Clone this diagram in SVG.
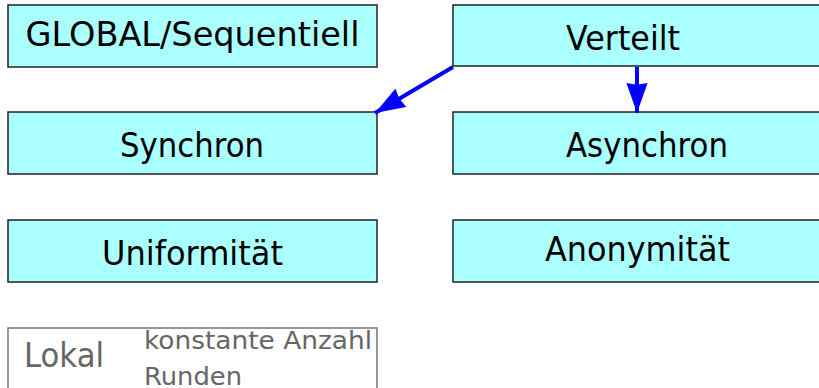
<svg xmlns="http://www.w3.org/2000/svg" width="819" height="388" viewBox="0 0 819 388">
  <defs>
    <marker id="head" viewBox="0 0 10 10" refX="10" refY="5" markerWidth="7.5" markerHeight="5.3" markerUnits="strokeWidth" orient="auto" preserveAspectRatio="none">
      <path d="M0,0 L10,5 L0,10 L0.6,5 z" fill="#0000ff"/>
    </marker>
  </defs>
  <style>
    .box { fill: #aaffff; stroke: #222; stroke-width: 1.5; }
    .plain { fill: #fff; stroke: #777; stroke-width: 1.5; }
    .lbl { font-family: "DejaVu Sans", sans-serif; font-size: 34px; fill: #000; text-anchor: middle; }
    .grey { font-family: "DejaVu Sans", sans-serif; fill: #666; }
    .edge { stroke: #0000ff; stroke-width: 4; fill: none; marker-end: url(#head); }
  </style>

  <g id="global">
    <rect class="box" x="8" y="5" width="369" height="62"/>
    <text class="lbl" x="192.5" y="46" textLength="334" lengthAdjust="spacingAndGlyphs">GLOBAL/Sequentiell</text>
  </g>
  <g id="verteilt">
    <rect class="box" x="453" y="5" width="380" height="61"/>
    <text class="lbl" x="623" y="50" textLength="114" lengthAdjust="spacingAndGlyphs">Verteilt</text>
  </g>
  <g id="synchron">
    <rect class="box" x="8" y="112" width="369" height="62"/>
    <text class="lbl" x="192" y="157" textLength="144" lengthAdjust="spacingAndGlyphs">Synchron</text>
  </g>
  <g id="asynchron">
    <rect class="box" x="453" y="112" width="380" height="62"/>
    <text class="lbl" x="647" y="157" textLength="162" lengthAdjust="spacingAndGlyphs">Asynchron</text>
  </g>
  <g id="uniformitaet">
    <rect class="box" x="8" y="220" width="369" height="62"/>
    <text class="lbl" x="192.5" y="265" textLength="181" lengthAdjust="spacingAndGlyphs">Uniformität</text>
  </g>
  <g id="anonymitaet">
    <rect class="box" x="453" y="220" width="380" height="62"/>
    <text class="lbl" x="637.5" y="261" textLength="185" lengthAdjust="spacingAndGlyphs">Anonymität</text>
  </g>
  <g id="lokal">
    <rect class="plain" x="8" y="328" width="369" height="70"/>
    <text class="grey" x="24" y="367" font-size="34" textLength="80" lengthAdjust="spacingAndGlyphs">Lokal</text>
    <text class="grey" x="144" y="349" font-size="24" textLength="228" lengthAdjust="spacingAndGlyphs">konstante Anzahl</text>
    <text class="grey" x="144" y="385" font-size="24" textLength="98" lengthAdjust="spacingAndGlyphs">Runden</text>
  </g>

  <g id="connectors">
    <line class="edge" x1="453" y1="67" x2="375" y2="113"/>
    <line class="edge" x1="637" y1="67" x2="637" y2="113"/>
  </g>
</svg>
